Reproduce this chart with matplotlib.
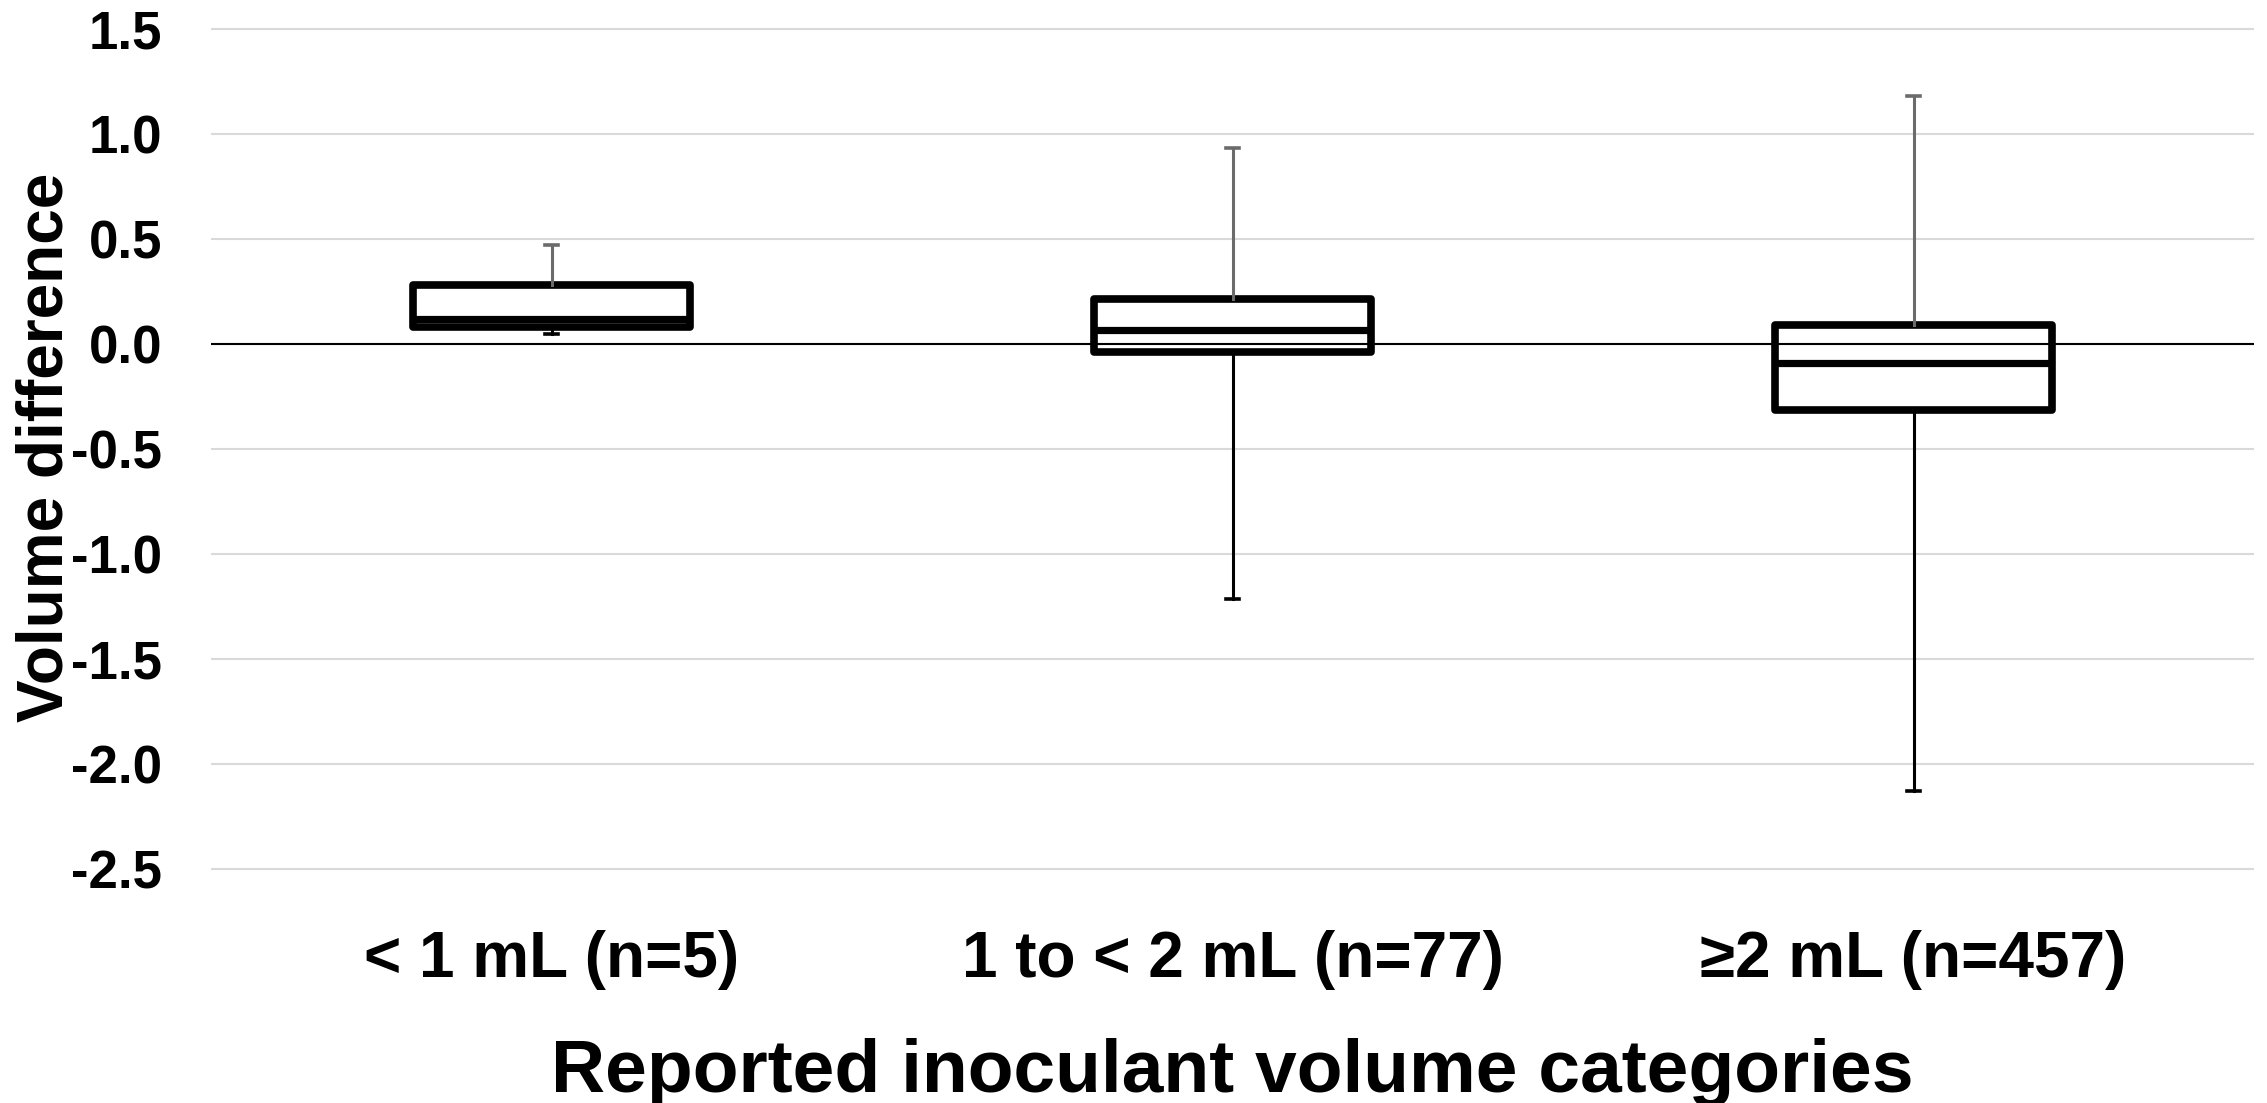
import matplotlib
matplotlib.use('Agg')
import matplotlib.pyplot as plt


# 各体积类别的箱线图统计量（上须、上四分位、中位数、下四分位、下须）
categories = ['< 1 mL (n=5)', '1 to < 2 mL (n=77)', '≥2 mL (n=457)']
whisker_high = [0.47, 0.935, 1.18]
q3_values = [0.28, 0.214, 0.09]
median_values = [0.12, 0.068, -0.09]
q1_values = [0.083, -0.04, -0.315]
whisker_low = [0.046, -1.216, -2.128]
y_ticks = [1.5, 1.0, 0.5, 0.0, -0.5, -1.0, -1.5, -2.0, -2.5]

plt.rcParams['font.family'] = ['Liberation Sans', 'DejaVu Sans']
plt.rcParams['font.weight'] = 'bold'

W, H = 2267, 1103


def main():
    fig = plt.figure(figsize=(W / 100, H / 100), dpi=100)
    pad = 0.02 * 210  # 轴范围外扩 0.02 对应的像素
    left, right = 211, 2254
    top, bottom = 29 - pad, 869 + pad
    ax = fig.add_axes([left / W, (H - bottom) / H, (right - left) / W, (bottom - top) / H])

    stats = []
    for i, name in enumerate(categories):
        stats.append({
            'label': name,
            'whislo': whisker_low[i],
            'q1': q1_values[i],
            'med': median_values[i],
            'q3': q3_values[i],
            'whishi': whisker_high[i],
        })

    # 网格线和零线
    for y in y_ticks:
        ax.axhline(y, color='#d9d9d9', lw=1.5, zorder=0)
    ax.axhline(0, color='black', lw=1.5, zorder=3)

    res = ax.bxp(
        stats,
        positions=[1, 2, 3],
        widths=0.408,
        capwidths=0.018,
        showfliers=False,
        patch_artist=True,
        boxprops=dict(facecolor='none', edgecolor='black', linewidth=5.5, joinstyle='round'),
        medianprops=dict(color='black', linewidth=5.2, solid_capstyle='butt'),
        whiskerprops=dict(color='black', linewidth=2.2),
        capprops=dict(color='black', linewidth=2.6),
    )
    # 上须为灰色，下须为黑色
    for i in range(len(categories)):
        res['whiskers'][2 * i + 1].set_color('#6b6b6b')
        res['caps'][2 * i + 1].set_color('#6b6b6b')

    ax.set_xlim(0.5, 3.5)
    ax.set_ylim(-2.52, 1.52)
    ax.set_yticks(y_ticks)
    ax.set_yticklabels([f'{v:.1f}' for v in y_ticks], fontsize=38, fontweight='bold')
    ax.set_xticks([1, 2, 3])
    ax.set_xticklabels(categories, fontsize=46, fontweight='bold')
    ax.tick_params(axis='y', length=0, pad=35)
    ax.tick_params(axis='x', length=0, pad=41)

    for spine in ax.spines.values():
        spine.set_visible(False)

    fig.text(46 / W, 1 - 447 / H, 'Volume difference', rotation=90,
             ha='center', va='center', fontsize=46, fontweight='bold')
    fig.text(1232 / W, 11 / H, 'Reported inoculant volume categories',
             ha='center', va='baseline', fontsize=54, fontweight='bold')

    fig.savefig('out.png', dpi=100)
    plt.close(fig)


if __name__ == '__main__':
    main()
